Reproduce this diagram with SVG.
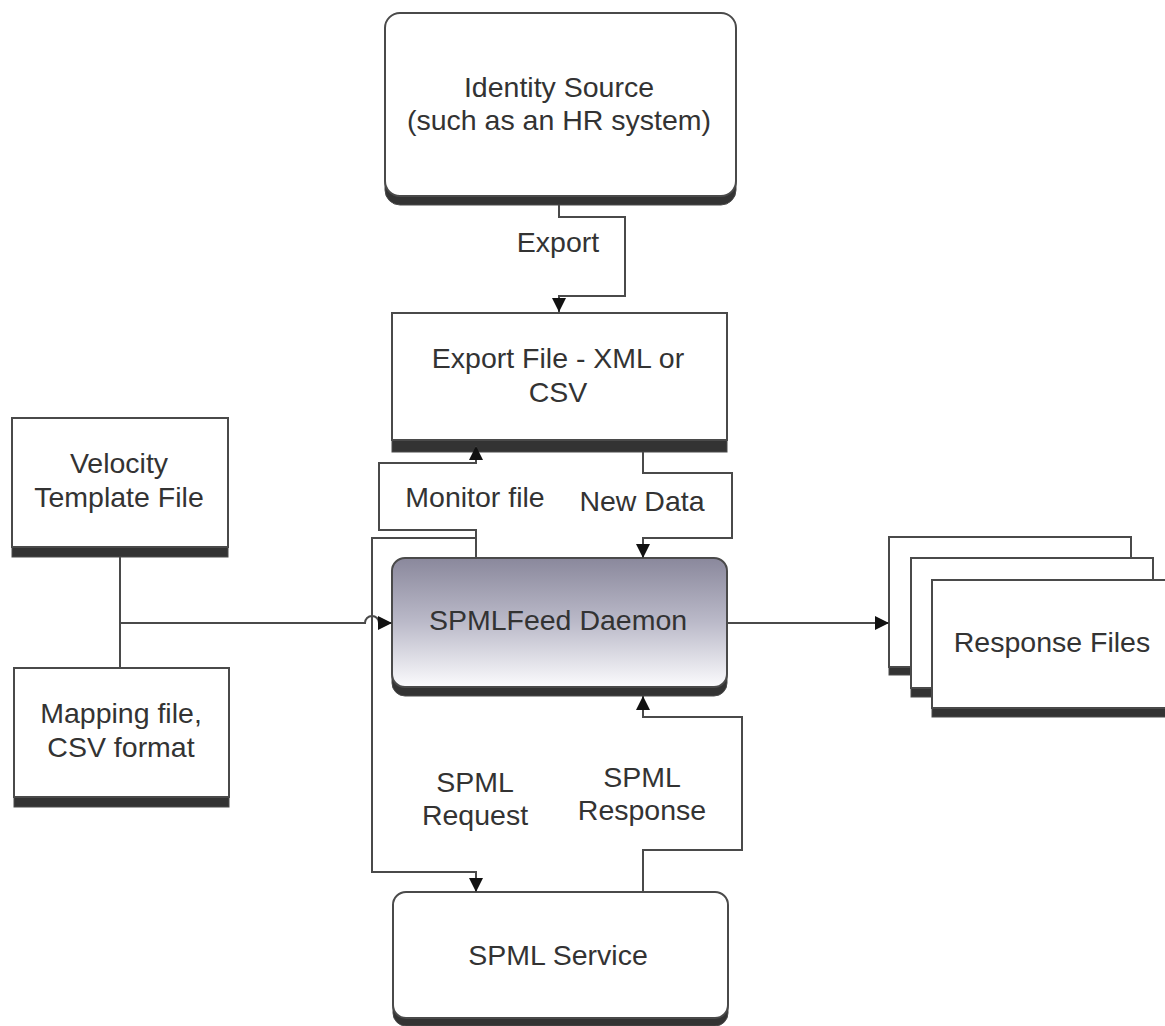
<svg xmlns="http://www.w3.org/2000/svg" width="1165" height="1026" viewBox="0 0 1165 1026">
<defs>
<linearGradient id="g" x1="0" y1="0" x2="0" y2="1">
<stop offset="0" stop-color="#8a889c"/>
<stop offset="0.5" stop-color="#bbbac9"/>
<stop offset="1" stop-color="#fbfbfd"/>
</linearGradient>
<marker id="ar" markerUnits="userSpaceOnUse" markerWidth="14" markerHeight="14" refX="12" refY="6" orient="auto" viewBox="0 0 12 12">
<path d="M0,0 L12,6 L0,12 z" fill="#111"/>
</marker>
<style>
.box{fill:#fff;stroke:#4a4a4a;stroke-width:2}
.sh{fill:#333;stroke:#4a4a4a;stroke-width:1}
.t{font-family:"Liberation Sans",Arial,sans-serif;font-size:28.5px;fill:#333;text-anchor:middle}
.c{fill:none;stroke:#4a4a4a;stroke-width:2}
</style>
</defs>
<rect width="1165" height="1026" fill="#fff"/>
<g id="identity">
<rect class="sh" x="385" y="22" width="351" height="183" rx="15"/>
<rect class="box" x="385" y="13" width="351" height="183" rx="15"/>
<text class="t" x="559" y="97">Identity Source</text>
<text class="t" x="559" y="130">(such as an HR system)</text>
</g>
<g id="exportfile">
<rect class="sh" x="392" y="325" width="335" height="127"/>
<rect class="box" x="392" y="313" width="335" height="127"/>
<text class="t" x="558" y="368">Export File - XML or</text>
<text class="t" x="558" y="402">CSV</text>
</g>
<g id="velocity">
<rect class="sh" x="12" y="428" width="216" height="129"/>
<rect class="box" x="12" y="418" width="216" height="129"/>
<text class="t" x="119" y="473">Velocity</text>
<text class="t" x="119" y="507">Template File</text>
</g>
<g id="mapping">
<rect class="sh" x="14" y="678" width="215" height="129"/>
<rect class="box" x="14" y="668" width="215" height="129"/>
<text class="t" x="121" y="723">Mapping file,</text>
<text class="t" x="121" y="757">CSV format</text>
</g>
<g id="daemon">
<rect class="sh" x="392" y="567" width="335" height="129" rx="13"/>
<rect x="392" y="558" width="335" height="129" rx="13" fill="url(#g)" stroke="#4a4a4a" stroke-width="2"/>
<text class="t" x="558" y="630">SPMLFeed Daemon</text>
</g>
<g id="spmlservice">
<rect class="sh" x="393" y="900" width="335" height="126" rx="13"/>
<rect class="box" x="393" y="892" width="335" height="126" rx="13"/>
<text class="t" x="558" y="965">SPML Service</text>
</g>
<g id="responses">
<rect class="sh" x="889" y="547" width="242" height="128"/>
<rect class="box" x="889" y="537" width="242" height="130"/>
<rect class="sh" x="911" y="568" width="242" height="129"/>
<rect class="box" x="911" y="558" width="242" height="130"/>
<rect class="sh" x="932" y="590" width="245" height="127"/>
<rect class="box" x="932" y="580" width="245" height="128"/>
<text class="t" x="1052" y="652">Response Files</text>
</g>
<g id="connectors">
<path class="c" d="M559,205 V217 H625 V296 H559 V312" marker-end="url(#ar)"/>
<path class="c" d="M476,558 V530 H379 V463 H476 V446" marker-end="url(#ar)"/>
<path class="c" d="M643,452 V473 H732 V538 H643 V558" marker-end="url(#ar)"/>
<path class="c" d="M476,558 V538 H372 V872 H476 V892" marker-end="url(#ar)"/>
<path class="c" d="M643,892 V850 H742 V717 H643 V696" marker-end="url(#ar)"/>
<path class="c" d="M120,557 V668"/>
<path class="c" d="M120,623 H365 A7,7 0 0 1 379,623 H392" marker-end="url(#ar)"/>
<path class="c" d="M727,623 H889" marker-end="url(#ar)"/>
<text class="t" x="558" y="252">Export</text>
<text class="t" x="475" y="507">Monitor file</text>
<text class="t" x="642" y="511">New Data</text>
<text class="t" x="475" y="792">SPML</text>
<text class="t" x="475" y="825">Request</text>
<text class="t" x="642" y="787">SPML</text>
<text class="t" x="642" y="820">Response</text>
</g>
</svg>
